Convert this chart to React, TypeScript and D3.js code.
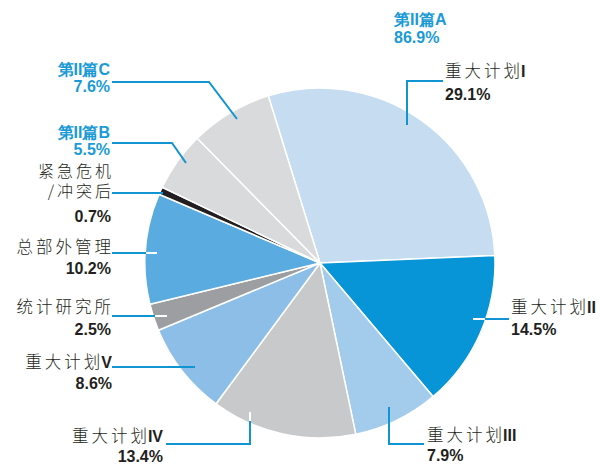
import React from "react";
import * as d3 from "d3";

const names = ["重大计划I", "重大计划II", "重大计划III", "重大计划IV", "重大计划V", "统计研究所", "总部外管理", "紧急危机/冲突后", "第II篇B", "第II篇C"];
const values = [29.1, 14.5, 7.9, 13.4, 8.6, 2.5, 10.2, 0.7, 5.5, 7.6];
const colors = ["#c5dcf1", "#0795d7", "#a3cbec", "#c8c9cb", "#8cbee8", "#9d9ea1", "#5aabdf", "#231f20", "#d9dadb", "#d9dadb"];
const totalLabel = ["第II篇A", "86.9%"];

const W = 601, H = 465;
const cx = 320, cy = 263, R = 175;
const BLUE = "#1094d2";
const TXT = "#231f20";

type Label = {
  cn: string; roman: string; cn2?: string; pct: string; x: number; y: number; anchor: "start" | "end";
  pctY: number; blue?: boolean;
  line: [number, number][]; white?: [number, number][];
};

export default function App() {
  const pie = d3.pie<number>().sort(null).startAngle(-17.2 * Math.PI / 180).endAngle((360 - 17.2) * Math.PI / 180);
  const arcs = pie(values);
  const arc = d3.arc<d3.PieArcDatum<number>>().innerRadius(0).outerRadius(R);
  const pct = (i: number) => d3.format(".1f")(values[i]) + "%";

  const labels: Label[] = [
    { cn: "重大计划", roman: "I", pct: pct(0), x: 445, y: 77, pctY: 100, anchor: "start", line: [[407, 125], [407, 81], [443, 81]] },
    { cn: "重大计划", roman: "II", pct: pct(1), x: 511, y: 313, pctY: 335, anchor: "start", line: [[484, 319], [509, 319]], white: [[473, 319], [485, 319]] },
    { cn: "重大计划", roman: "III", pct: pct(2), x: 427, y: 441, pctY: 461, anchor: "start", line: [[389, 407], [389, 444], [424, 444]] },
    { cn: "重大计划", roman: "IV", pct: pct(3), x: 163, y: 442, pctY: 462, anchor: "end", line: [[250, 420], [250, 444], [166, 444]], white: [[250, 412], [250, 421]] },
    { cn: "重大计划", roman: "V", pct: pct(4), x: 112, y: 368, pctY: 389, anchor: "end", line: [[195, 367], [112, 367]] },
    { cn: "统计研究所", roman: "", pct: pct(5), x: 111, y: 313, pctY: 335, anchor: "end", line: [[156, 316], [112, 316]], white: [[155, 316], [167, 316]] },
    { cn: "总部外管理", roman: "", pct: pct(6), x: 111, y: 253, pctY: 274, anchor: "end", line: [[147, 253], [112, 253]], white: [[146, 253], [157, 253]] },
    { cn: "紧急危机", roman: "", cn2: "/冲突后", pct: pct(7), x: 111, y: 177, pctY: 222, anchor: "end", line: [[163, 193], [112, 193]] },
    { cn: "第II篇B", roman: "", pct: pct(8), x: 110, y: 138, pctY: 155, anchor: "end", blue: true, line: [[186, 163], [172, 143], [112, 143]] },
    { cn: "第II篇C", roman: "", pct: pct(9), x: 110, y: 75, pctY: 92, anchor: "end", blue: true, line: [[237, 119], [209, 82], [112, 82]] },
  ];

  const cnFont = "'Noto Sans CJK SC', sans-serif";
  const latFont = "'Liberation Sans', Arial, sans-serif";
  const lineGen = d3.line();

  const cnText = (s: string, fs = 16.5) => {
    const head = s.slice(0, -1);
    const last = s.slice(-1);
    return (
      <>
        <tspan fontFamily={cnFont} fontWeight={300} fontSize={fs} letterSpacing={3}>{head}</tspan>
        <tspan fontFamily={cnFont} fontWeight={300} fontSize={fs}>{last}</tspan>
      </>
    );
  };

  return (
    <svg width={W} height={H} style={{ display: "block", position: "absolute", left: 0, top: 0 }}>
      <rect width={W} height={H} fill="#fff" />
      <g transform={`translate(${cx},${cy})`}>
        {arcs.map((a, i) => (
          <path key={i} d={arc(a) || ""} fill={colors[i]} stroke="#fff" strokeWidth={1.5} strokeLinejoin="round" />
        ))}
      </g>
      {labels.map((l, i) => (
        <g key={i}>
          <path d={lineGen(l.line) || ""} fill="none" stroke={BLUE} strokeWidth={2} />
          {l.white && <path d={lineGen(l.white) || ""} fill="none" stroke="#fff" strokeWidth={2} />}
          {l.blue ? (
            <>
              <text x={l.x} y={l.y} textAnchor={l.anchor} fontFamily={latFont} fontWeight="bold" fontSize={16} fill="#1a9ad6">{l.cn}</text>
              <text x={l.x} y={l.pctY} textAnchor={l.anchor} fontFamily={latFont} fontWeight="bold" fontSize={16} fill="#1a9ad6">{l.pct}</text>
            </>
          ) : (
            <>
              <text x={l.x} y={l.y} textAnchor={l.anchor} fill={TXT}>
                {cnText(l.cn, l.cn2 ? 16 : 16.5)}
                {l.roman && <tspan dx={1} fontFamily={latFont} fontWeight="bold" fontSize={16}>{l.roman}</tspan>}
              </text>
              {l.cn2 && (
                <text x={l.x} y={l.y + 20} textAnchor={l.anchor} fill={TXT}>{cnText(l.cn2, 16)}</text>
              )}
              <text x={l.x} y={l.pctY} textAnchor={l.anchor} fontFamily={latFont} fontWeight="bold" fontSize={16} fill={TXT}>{l.pct}</text>
            </>
          )}
        </g>
      ))}
      <text x={394} y={25} fontFamily={latFont} fontWeight="bold" fontSize={16} fill="#1a9ad6">{totalLabel[0]}</text>
      <text x={394} y={43} fontFamily={latFont} fontWeight="bold" fontSize={16} fill="#1a9ad6">{totalLabel[1]}</text>
    </svg>
  );
}
